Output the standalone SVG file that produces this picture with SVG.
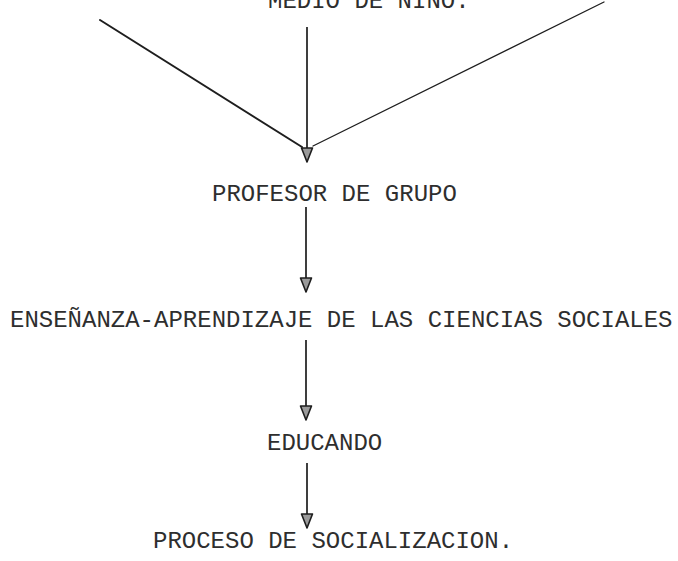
<svg xmlns="http://www.w3.org/2000/svg" width="678" height="561" viewBox="0 0 678 561">
<defs>
<style>
.t{font-family:"Liberation Mono","Courier New",monospace;font-size:24px;fill:#2e2e2e;}
.ln{stroke:#1e1e1e;fill:none;stroke-linecap:round;}
.v{stroke:#2a2a2a;stroke-width:1.8;fill:none;}
</style>
<marker id="ah" markerUnits="userSpaceOnUse" markerWidth="18" markerHeight="14" viewBox="0 0 18 14" refX="16" refY="7" orient="auto">
<path d="M2,1.5 L2,12.5 L16,7 Z" fill="#9a9a9a" stroke="#1e1e1e" stroke-width="1.6" stroke-linejoin="round"/>
</marker>
</defs>
<rect width="678" height="561" fill="#ffffff"/>
<g id="connectors">
<line class="ln" x1="100" y1="20" x2="302" y2="147" stroke-width="2"/>
<line class="ln" x1="604" y1="2" x2="313" y2="146" stroke-width="1.3"/>
<line class="v" x1="307" y1="27" x2="307" y2="162" marker-end="url(#ah)"/>
<line class="v" x1="306" y1="207" x2="306" y2="292" marker-end="url(#ah)"/>
<line class="v" x1="306" y1="340" x2="306" y2="420" marker-end="url(#ah)"/>
<line class="v" x1="307" y1="463" x2="307" y2="528" marker-end="url(#ah)"/>
</g>
<g id="node-medio"><text class="t" x="268" y="8">MEDIO DE NIÑO.</text></g>
<g id="node-profesor"><text class="t" x="212" y="201">PROFESOR DE GRUPO</text></g>
<g id="node-ensenanza"><text class="t" x="10" y="327">ENSEÑANZA-APRENDIZAJE DE LAS CIENCIAS SOCIALES</text></g>
<g id="node-educando"><text class="t" x="267" y="450">EDUCANDO</text></g>
<g id="node-proceso"><text class="t" x="153" y="548">PROCESO DE SOCIALIZACION.</text></g>
</svg>
